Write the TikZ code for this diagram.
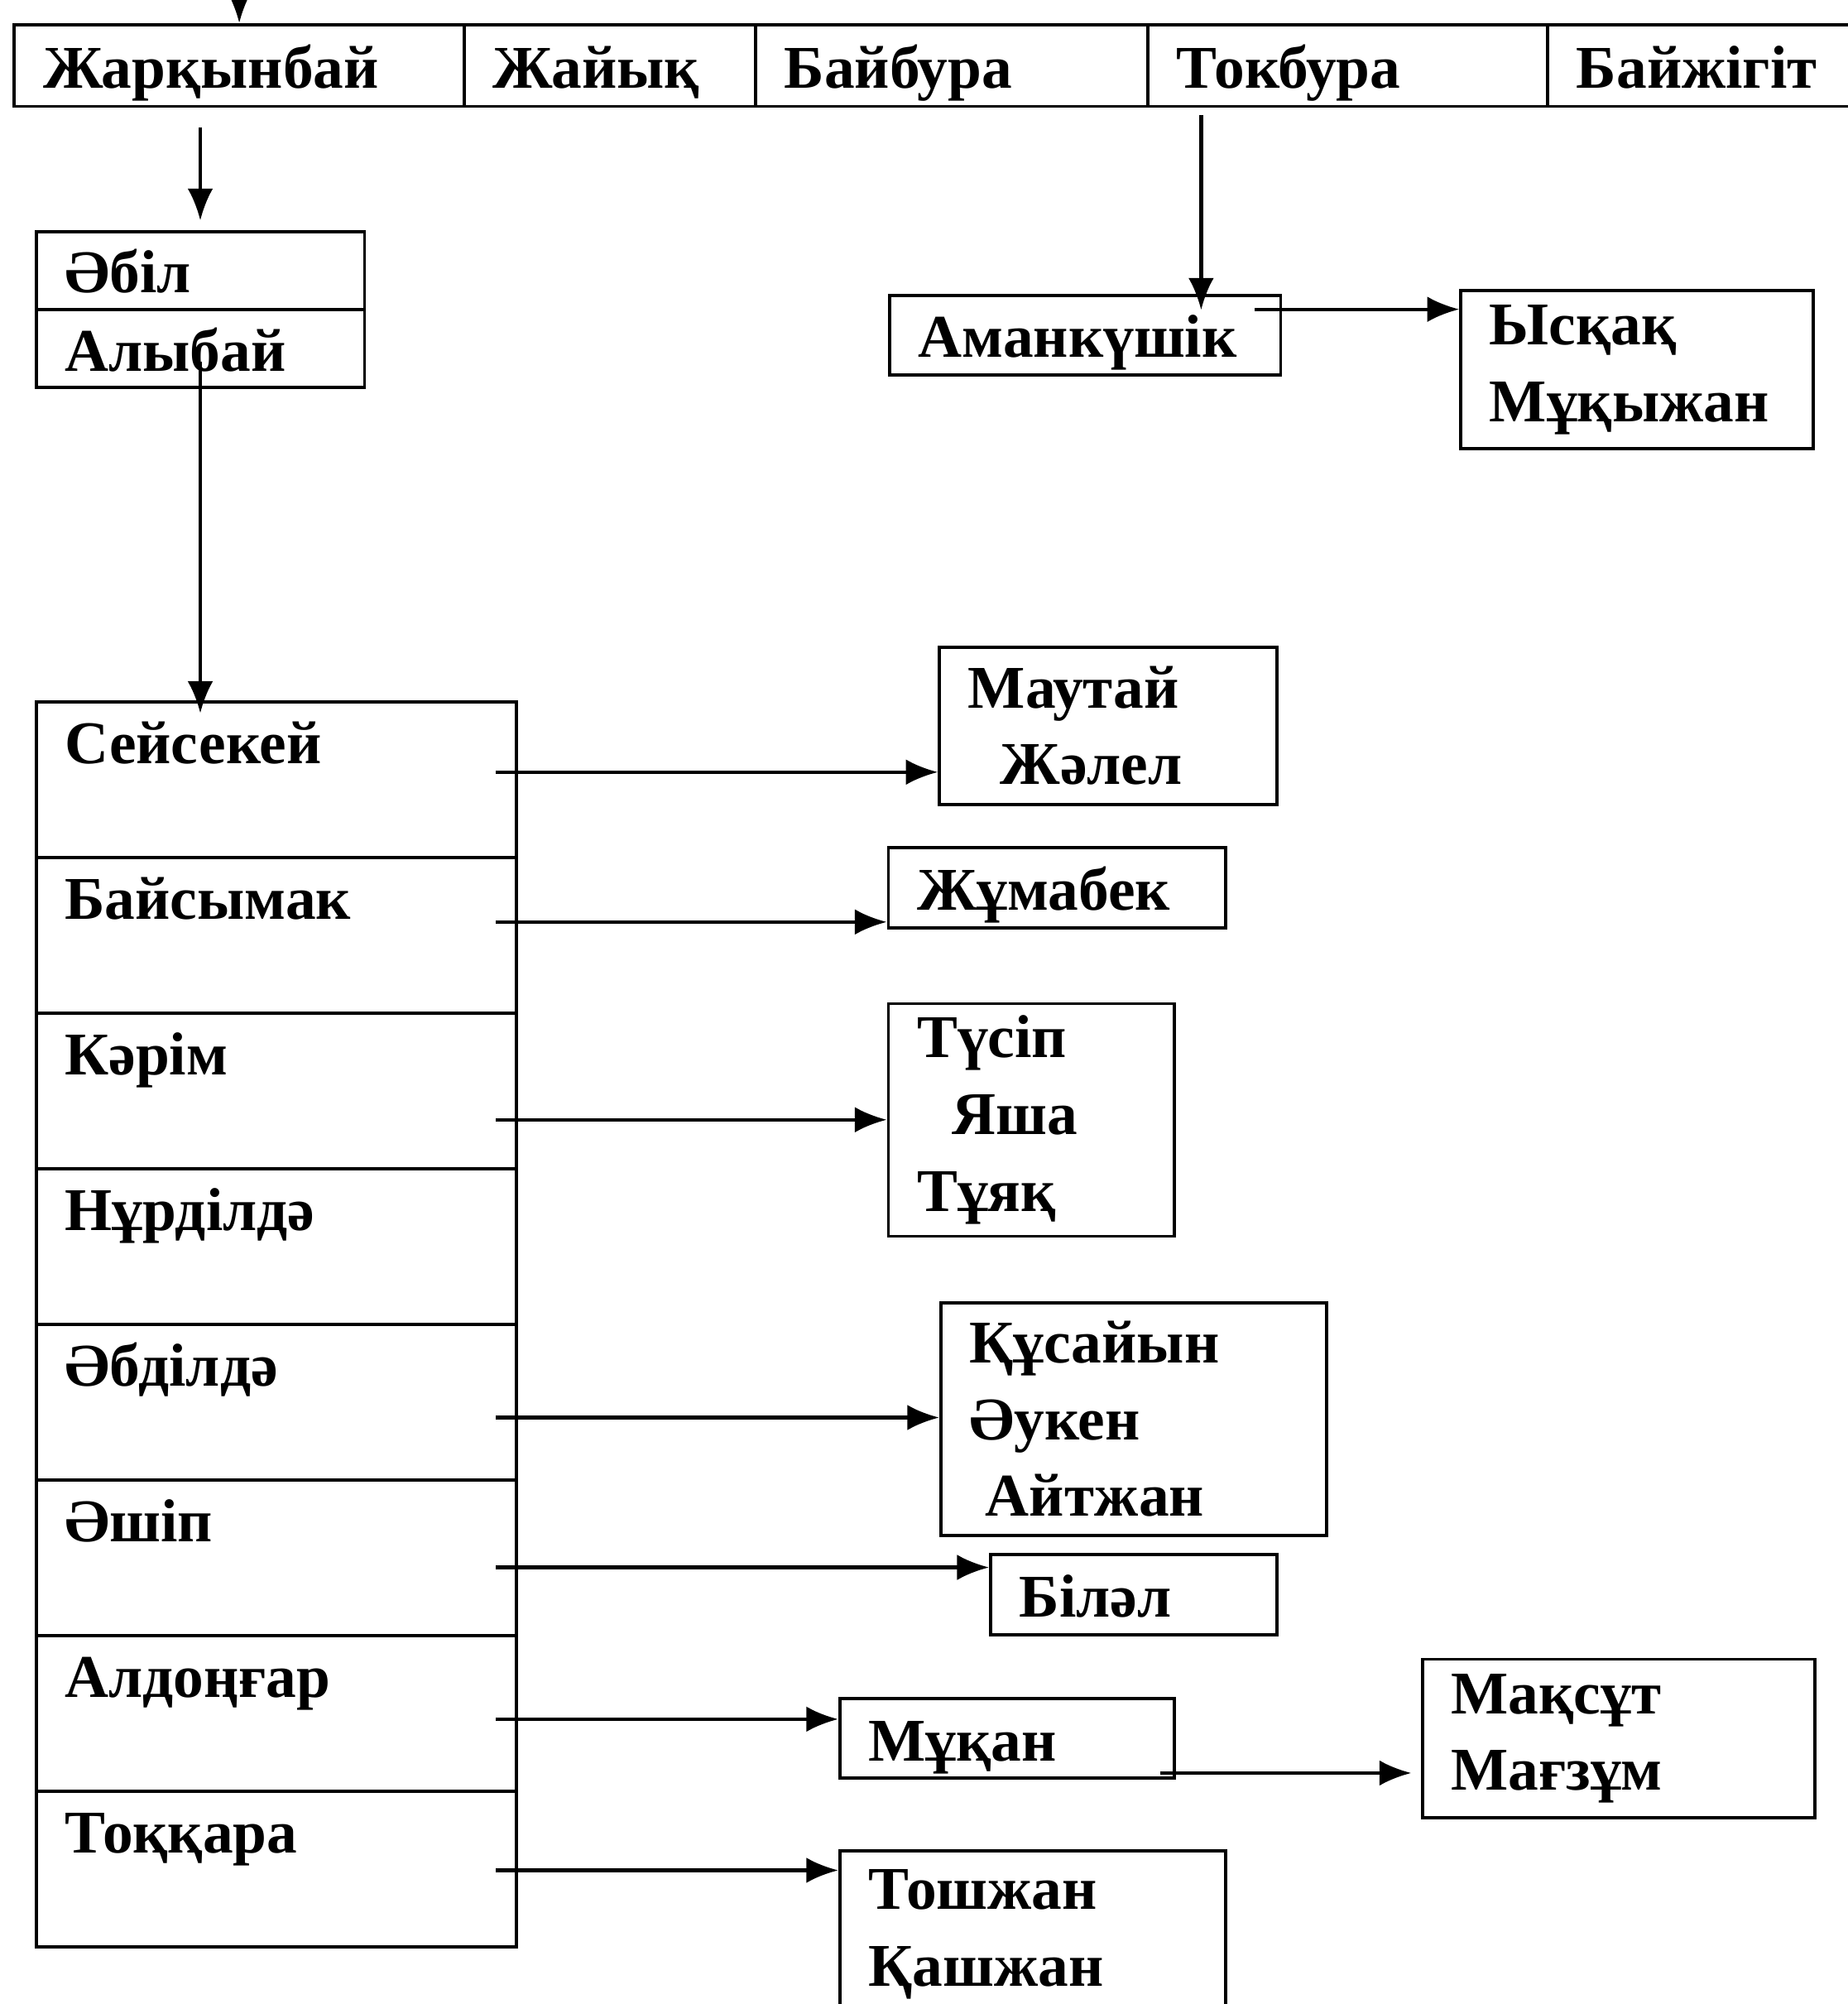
\documentclass[tikz,border=0pt]{standalone}
\usepackage{fontspec}
\setmainfont{Liberation Serif}
\usetikzlibrary{arrows.meta}

\tikzset{
    cell/.style={draw, line width=1pt, anchor=north west, inner xsep=9pt, inner ysep=0pt,
        align=left, font=\fontsize{19}{24}\selectfont\bfseries},
    kids/.style 2 args={cell, text width=#1, minimum height=#2},
    onekid/.style 2 args={kids={#1}{#2}, text height=16pt, text depth=2pt},
    rowbox/.style={cell, text width=132.4pt, text height=19.4pt, text depth=29.3pt},
    arr/.style={->, line width=1.1pt},
}

\begin{document}
\begin{tikzpicture}[>={Latex[length=10pt,width=8pt]}, x=0.4pt, y=-0.4pt]
    \useasboundingbox (0,0) rectangle (1446,1568);

    % Top row
    \foreach \nm/\xl/\tw/\txt in {zhark/10/122.8/Жарқынбай, zhaiyk/362/73.2/Жайық,
        baibura/590/104.8/Байбура, tokbura/897/107.2/Токбура, baizhigit/1210/86/Байжігіт} {
        \node[onekid={\tw pt}{25.6pt}] (\nm) at (\xl,18) {\txt};
    }
    \draw[arr] ([yshift=12pt]zhark.north) -- (zhark.north);

    % Әбіл, Алыбай
    \node[onekid={84.8pt}{24.4pt}] (abil) at (27,180) {Әбіл};
    \node[onekid={84.8pt}{24.4pt}] (alybai) at (27,241) {Алыбай};
    \draw[arr] ([yshift=-6pt]zhark.south -| abil.north) -- ([yshift=3pt]abil.north);

    % Left column
    \foreach \txt [count=\i] in {Сейсекей, Байсымак, Кәрім, Нұрділдә, Әбділдә, Әшіп, Алдоңғар, Тоққара} {
        \node[rowbox] (r\i) at (27, {548+(\i-1)*121.75}) {\txt};
    }
    \draw[arr] ([yshift=-4pt]alybai.center) -- ([yshift=-4pt]alybai.center |- r1.north);

    % Children
    \node[kids={87.6pt}{49.2pt}] (mautai) at (734,505) {Маутай\\\hspace*{10pt}Жәлел};
    \node[onekid={87.6pt}{25.2pt}] (zhumabek) at (694,662) {Жұмабек};
    \node[kids={71.6pt}{72.8pt}] (tusip) at (694,784) {Түсіп\\\hspace*{11pt}Яша\\Тұяқ};
    \node[kids={102.8pt}{72.8pt}] (kusaiyn) at (735,1018) {Құсайын\\Әукен\\\hspace*{5pt}Айтжан};
    \node[onekid={71.6pt}{25.2pt}] (bilal) at (774,1215) {Біләл};
    \node[onekid={86.8pt}{24.8pt}] (mukan) at (656,1328) {Мұқан};
    \node[kids={104.8pt}{49.6pt}] (maksut) at (1112,1297) {Мақсұт\\Мағзұм};
    \node[kids={102.8pt}{52pt}] (toshzhan) at (656,1447) {Тошжан\\Қашжан};

    \foreach \i/\t/\dy in {1/mautai/2.4, 2/zhumabek/4.2, 3/tusip/-9, 5/kusaiyn/-4.8,
        6/bilal/-3, 7/mukan/-1.8, 8/toshzhan/-0.4} {
        \draw[arr] ([xshift=-7pt,yshift=\dy pt]r\i.east) -- ([yshift=\dy pt]r\i.east -| \t.west);
    }
    \draw[arr] ([xshift=-5pt,yshift=-10.8pt]mukan.east) -- ([xshift=-3pt,yshift=-10.8pt]mukan.east -| maksut.west);

    % Токбура branch
    \node[onekid={104.4pt}{24.8pt}] (amank) at (695,230) {Аманкүшік};
    \node[kids={92.4pt}{49.6pt}] (yskak) at (1142,226) {Ысқақ\\Мұқыжан};
    \coordinate (tk) at (940,90);
    \coordinate (am) at (982,242);
    \draw[arr] (tk) -- ([yshift=-5pt]tk |- amank.north);
    \draw[arr] (am) -- (am -| yskak.west);

\end{tikzpicture}
\end{document}
